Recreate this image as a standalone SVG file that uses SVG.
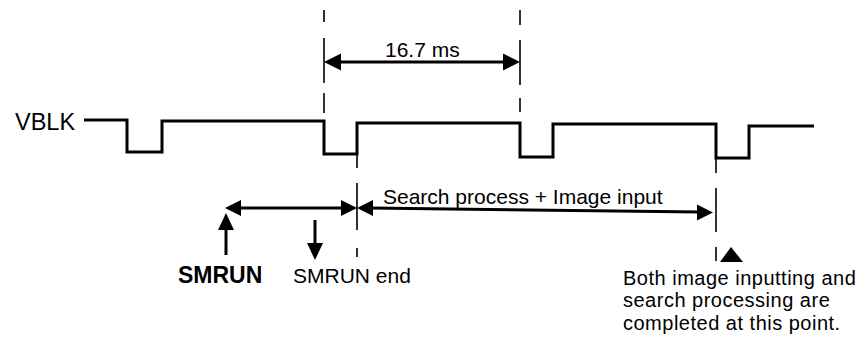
<svg xmlns="http://www.w3.org/2000/svg" width="865" height="339" viewBox="0 0 865 339">
<style>
.t{font-family:"Liberation Sans",Arial,sans-serif;fill:#000;font-size:21px}
.b{font-weight:bold}
.note{font-size:20px;letter-spacing:0.5px}
.wave{fill:none;stroke:#000;stroke-width:3;stroke-linejoin:miter}
.dash{fill:none;stroke:#000;stroke-width:1.6}
.arr{fill:none;stroke:#000;stroke-width:3}
.head{fill:#000}
</style>
<rect width="865" height="339" fill="#fff"/>
<g id="vblk">
<text class="t" x="15" y="130" style="font-size:23.5px">VBLK</text>
<path class="wave" d="M84,120 H127 V152 H162 V121 H324 V154 H357 V123 H520 V157 H553 V124 H716 V158 H749 V126 H814"/>
</g>
<g id="guides">
<path class="dash" d="M324,10 V22 M324,38 V83 M324,93 V113"/>
<path class="dash" d="M520,10 V25 M520,40 V85 M520,98 V112"/>
<path class="dash" d="M357,154 V168 M357,183 V230 M357,248 V257"/>
<path class="dash" d="M716,158 V173 M716,188 V232 M716,247 V261"/>
</g>
<g id="connectors">
<g id="period">
<path class="arr" d="M338,62 H505"/>
<polygon class="head" points="324,62 341,53.5 341,70.5"/>
<polygon class="head" points="520,62 503,53.5 503,70.5"/>
</g>
<g id="smrun-span">
<path class="arr" d="M238,208 H343"/>
<polygon class="head" points="225,208 241,200 241,216"/>
<polygon class="head" points="357,208 341,200 341,216"/>
</g>
<g id="search-span">
<path class="arr" d="M370,208 L700,212"/>
<polygon class="head" points="357,208 373,200 373,216"/>
<polygon class="head" points="713,212.5 697,204.5 697,220.5"/>
</g>
<g id="smrun-up">
<path class="arr" d="M226,228 V255"/>
<polygon class="head" points="226,213 218,230 234,230"/>
</g>
<g id="smrun-down">
<path class="arr" d="M315,220 V245"/>
<polygon class="head" points="315,260 307,243 323,243"/>
</g>
<polygon id="done-mark" class="head" points="731,247 720,262 743,262"/>
</g>
<g id="labels">
<text id="lbl-period" class="t" x="385" y="57">16.7 ms</text>
<text id="lbl-search" class="t" x="383" y="204">Search process + Image input</text>
<text id="lbl-smrun" class="t b" x="178" y="283" style="font-size:23px">SMRUN</text>
<text id="lbl-smrun-end" class="t" x="293" y="283">SMRUN end</text>
<text id="lbl-done" class="t note" x="623" y="284.5">Both image inputting and<tspan x="623" y="307">search processing are</tspan><tspan x="623" y="329.5">completed at this point.</tspan></text>
</g>
</svg>
